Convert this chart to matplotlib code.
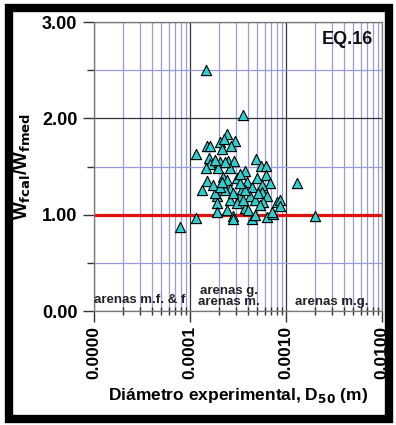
import numpy as np
import matplotlib
matplotlib.use("Agg")
import matplotlib.pyplot as plt
from matplotlib.patches import Rectangle
from matplotlib.ticker import LogLocator, FixedLocator, FixedFormatter

plt.rcParams['font.family'] = ['Liberation Sans', 'DejaVu Sans']
plt.rcParams['font.weight'] = 'bold'

# --- datos ---
d50 = [1.469e-4, 3.54e-4, 7.87e-5, 1.155e-4, 1.146e-4, 1.288e-3, 1.995e-3,
       1.514e-4, 2.449e-4, 2.054e-4, 2.944e-4, 2.275e-4, 2.153e-4, 2.673e-4,
       1.563e-4, 1.614e-4, 1.469e-4, 2.054e-4, 2.466e-4, 2.897e-4, 1.972e-4,
       2.630e-4, 3.741e-4, 4.870e-4, 5.495e-4, 6.194e-4, 1.493e-4, 1.324e-4,
       1.897e-4, 1.928e-4, 1.820e-4, 2.223e-4, 2.410e-4, 3.062e-4, 3.890e-4,
       4.385e-4, 4.943e-4, 6.194e-4, 6.808e-4, 5.585e-4, 5.585e-4, 6.295e-4,
       5.808e-4, 7.998e-4, 8.660e-4, 8.660e-4, 4.217e-4, 3.319e-4, 2.612e-4,
       3.062e-4, 3.741e-4, 2.410e-4, 1.928e-4, 2.825e-4, 4.385e-4, 4.753e-4,
       6.295e-4, 7.379e-4, 2.612e-4, 3.451e-4, 2.825e-4, 2.317e-4, 3.741e-4,
       4.753e-4, 5.358e-4, 1.750e-4, 2.054e-4, 3.319e-4, 3.597e-4,
       2.825e-4, 7.100e-4, 2.317e-4, 1.820e-4, 1.614e-4, 3.300e-4, 5.100e-4,
       4.000e-4, 2.150e-4]
w_ratio = [2.50, 2.03, 0.87, 0.965, 1.63, 1.33, 0.99,
           1.71, 1.835, 1.75, 1.76, 1.79, 1.68, 1.71,
           1.585, 1.53, 1.48, 1.55, 1.56, 1.56, 1.48,
           1.48, 1.45, 1.58, 1.51, 1.51, 1.35, 1.26,
           1.19, 1.125, 1.22, 1.395, 1.36, 1.38, 1.34,
           1.29, 1.38, 1.41, 1.33, 1.31, 1.24, 1.19,
           1.135, 1.135, 1.15, 1.09, 1.19, 1.19, 1.15,
           1.12, 1.07, 1.05, 1.03, 0.99, 0.96, 1.00,
           0.98, 1.01, 1.27, 1.27, 1.22, 1.26, 1.26,
           1.15, 1.10, 1.31, 1.29, 1.33, 1.15,
           0.96, 1.03, 1.55, 1.57, 1.71, 1.42, 1.22,
           1.05, 1.34]

x_ticks = [1e-5, 1e-4, 1e-3, 1e-2]
x_labels = ["0.0000", "0.0001", "0.0010", "0.0100"]
y_ticks = [0, 1, 2, 3]
y_labels = ["0.00", "1.00", "2.00", "3.00"]

fig = plt.figure(figsize=(3.96, 4.25), dpi=100)
ax = fig.add_axes([0.2374, 0.2682, 0.7272, 0.6800])

ax.set_xscale('log')
ax.set_xlim(1e-5, 1e-2)
ax.set_ylim(0, 3)

# rejilla
ax.xaxis.set_minor_locator(LogLocator(base=10, subs=np.arange(2, 10)))
ax.yaxis.set_minor_locator(FixedLocator([0.5, 1.5, 2.5]))
ax.grid(True, which='minor', color='#9a9ad8', linewidth=0.9, zorder=0)
ax.grid(True, which='major', color='#333333', linewidth=0.9, zorder=0)
ax.set_axisbelow(True)

ax.xaxis.set_major_locator(FixedLocator(x_ticks))
ax.xaxis.set_major_formatter(FixedFormatter(x_labels))
ax.xaxis.set_minor_formatter(FixedFormatter([]))
ax.yaxis.set_major_locator(FixedLocator(y_ticks))
ax.yaxis.set_major_formatter(FixedFormatter(y_labels))

ax.tick_params(axis='x', which='major', direction='out', length=8, width=1,
               color='#333333', labelsize=12.5, pad=3, labelrotation=90)
ax.tick_params(axis='x', which='minor', direction='inout', length=6, width=1,
               color='#333333')
ax.tick_params(axis='y', which='major', direction='out', length=8, width=1,
               color='#333333', labelsize=13, pad=4)
ax.tick_params(axis='y', which='minor', direction='out', length=5, width=1,
               color='#333333')
for lab in ax.get_xticklabels() + ax.get_yticklabels():
    lab.set_fontweight('bold')

for s in ax.spines.values():
    s.set_color('#777777')
    s.set_linewidth(0.9)

ax.axhline(1.0, color='#e01010', linewidth=2.3, zorder=2)
ax.scatter(d50, w_ratio, marker='^', s=54, facecolor='#33cccc',
           edgecolor='black', linewidth=0.8, zorder=3, clip_on=False)

ax.text(0.969, 0.938, "EQ.16", transform=ax.transAxes, ha='right', va='center',
        fontsize=13, fontweight='bold', color='#111111')
ax.text(0.0, 0.038, "arenas m.f. & f", transform=ax.transAxes, ha='left',
        va='center', fontsize=9.5, fontweight='bold', color='#222222')
ax.text(0.469, 0.050, "arenas g.\narenas m.", transform=ax.transAxes,
        ha='center', va='center', multialignment='center', fontsize=9.5,
        fontweight='bold', color='#222222', linespacing=0.95)
ax.text(0.825, 0.031, "arenas m.g.", transform=ax.transAxes, ha='center',
        va='center', fontsize=9.5, fontweight='bold', color='#222222')

ax.set_xlabel("Diámetro experimental, D$_{\\mathbf{50}}$ (m)", fontsize=12.5,
              fontweight='bold', labelpad=5)
fig.text(23 / 396, 1 - 167 / 425, "W$_{\\mathbf{fcal}}$/W$_{\\mathbf{fmed}}$",
         rotation=90, ha='center', va='center', fontsize=13.5,
         fontweight='bold')

# marco negro exterior
fig.patches.append(Rectangle((9 / 396, 6 / 425), 380 / 396, 411 / 425,
                             transform=fig.transFigure, fill=False,
                             edgecolor='black', linewidth=6, zorder=10))

fig.savefig("out.png", dpi=100, facecolor='white')
